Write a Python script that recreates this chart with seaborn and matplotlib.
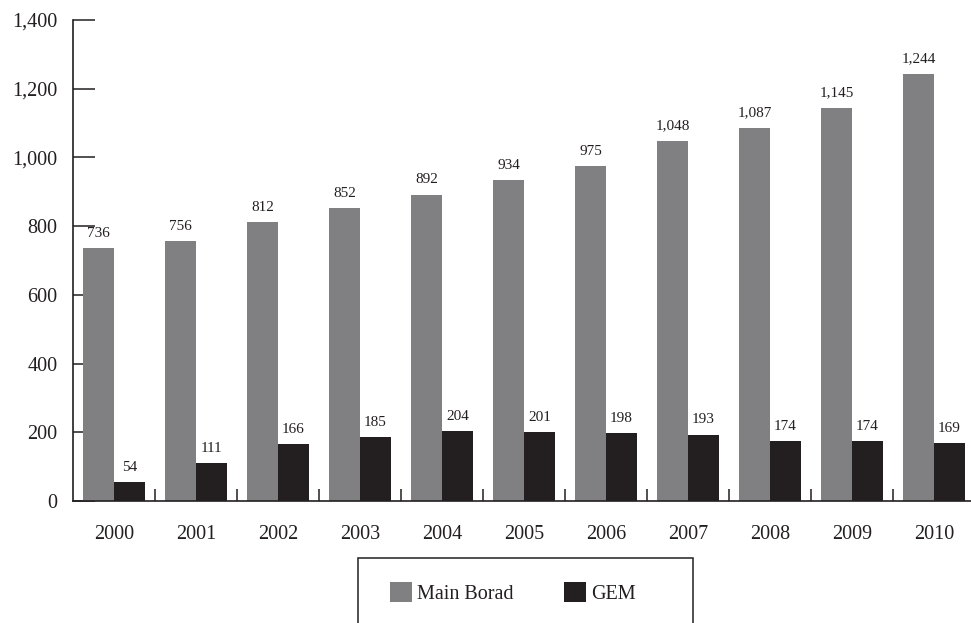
import matplotlib
matplotlib.use("Agg")
import matplotlib.pyplot as plt
from matplotlib.patches import Patch, Rectangle
from matplotlib.ticker import FuncFormatter
import seaborn as sns
import pandas as pd

years = ["2000", "2001", "2002", "2003", "2004", "2005", "2006", "2007", "2008", "2009", "2010"]
main_board = [736, 756, 812, 852, 892, 934, 975, 1048, 1087, 1145, 1244]
gem = [54, 111, 166, 185, 204, 201, 198, 193, 174, 174, 169]
series_names = ["Main Borad", "GEM"]
colors = ["#808083", "#231f20"]

df = pd.DataFrame({
    "year": years * 2,
    "value": main_board + gem,
    "series": [series_names[0]] * len(years) + [series_names[1]] * len(years),
})

sns.set_theme(style="white")
plt.rcParams["font.family"] = ["Liberation Serif", "DejaVu Serif"]

W, H = 971, 623
fig = plt.figure(figsize=(W / 100, H / 100), dpi=100)
ax_left, ax_bottom, ax_top = 73, 501, 20
cat_w = 82
ax = fig.add_axes([ax_left / W, (H - ax_bottom) / H, cat_w * 11 / W, (ax_bottom - ax_top) / H])

sns.barplot(data=df, x="year", y="value", hue="series", palette=colors,
            saturation=1, width=0.756, gap=0, ax=ax, legend=False, linewidth=0)

ax.set_ylim(0, 1400)
ax.set_xlim(-0.5, 10.5)
ax.set_axisbelow(True)
ax.set_xlabel("")
ax.set_ylabel("")
ax.set_yticks(range(0, 1401, 200))
ax.yaxis.set_major_formatter(FuncFormatter(lambda v, p: f"{int(v):,}"))

for c in ax.containers:
    ax.bar_label(c, labels=[f"{int(v):,}" for v in c.datavalues], padding=6,
                 fontsize=11, color="#231f20")

for s in ["top", "right"]:
    ax.spines[s].set_visible(False)
for s in ["left", "bottom"]:
    ax.spines[s].set_color("#231f20")
    ax.spines[s].set_linewidth(1.2)

ax.tick_params(axis="y", direction="in", length=16, width=1.1, color="#231f20",
               pad=11, labelsize=14.5, labelcolor="#231f20", left=True)
ax.set_xticks(range(11))
ax.set_xticklabels(years)
ax.tick_params(axis="x", which="major", length=0, pad=17, labelsize=14.5, labelcolor="#231f20")
ax.set_xticks([i + 0.5 for i in range(11)], minor=True)
ax.tick_params(axis="x", which="minor", direction="in", length=9, width=1.1,
               color="#231f20", bottom=True)

# legend frame (bottom edge falls outside the figure)
fig.patches.append(Rectangle((358 / W, (H - 640) / H), (693 - 358) / W, (640 - 558) / H,
                             transform=fig.transFigure, fill=False, edgecolor="#231f20",
                             linewidth=1.1, clip_on=False))
handles = [Patch(facecolor=colors[i], edgecolor="none", label=series_names[i]) for i in range(2)]
fig.legend(handles=handles, loc="center left", bbox_to_anchor=(380 / W, (H - 593) / H),
           ncol=2, frameon=False, fontsize=14.5, handlelength=1.1, handleheight=1.15,
           handletextpad=0.25, columnspacing=2.5, borderpad=0, labelcolor="#231f20")

fig.savefig("out.png", dpi=100)
